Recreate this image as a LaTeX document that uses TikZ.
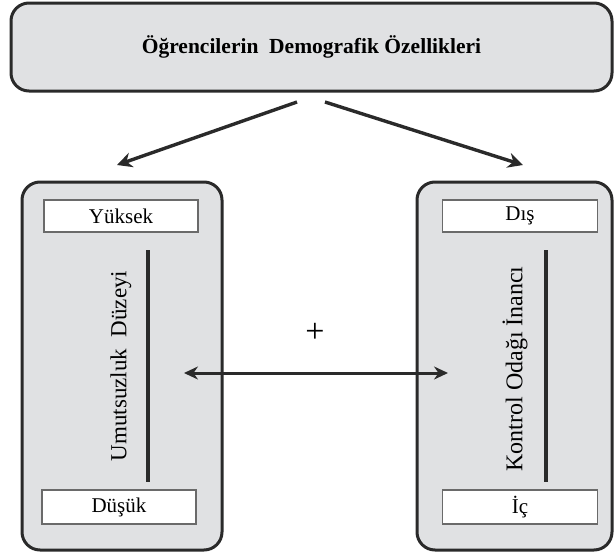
\documentclass[tikz,border=0pt]{standalone}
\usepackage{fontspec}
\setmainfont{Liberation Serif}
\usetikzlibrary{arrows.meta}
\definecolor{boxfill}{HTML}{E0E1E3}
\definecolor{edge}{HTML}{2A2A2A}
\tikzset{
  bigbox/.style={draw=edge, line width=3pt, fill=boxfill, rounded corners=18pt, inner sep=0pt},
  tagbox/.style={draw=edge!70, line width=1.1pt, fill=white, inner sep=0pt, font=\fontsize{21}{23}\selectfont},
  axis/.style={draw=edge, line width=3.5pt},
  conn/.style={draw=edge, line width=3.4pt, -{Stealth[length=15pt,width=15pt]}},
  dconn/.style={draw=edge, line width=3pt, {Stealth[length=14pt,width=13pt]}-{Stealth[length=14pt,width=13pt]}},
  vlabel/.style={rotate=90, inner sep=0pt}
}
\begin{document}
\begin{tikzpicture}[x=1pt,y=-1pt]
\useasboundingbox (0,0) rectangle (614,555);
\node[bigbox, minimum width=601pt, minimum height=88pt] (top) at (311.5,47)
  {\fontsize{21.5}{23}\selectfont\bfseries Öğrencilerin\ \ Demografik Özellikleri};
\node[bigbox, minimum width=200pt, minimum height=368pt] (lbox) at (122,366) {};
\node[bigbox, minimum width=195pt, minimum height=368pt] (rbox) at (514.5,366) {};
\node[tagbox, minimum width=154pt, minimum height=32pt] (ltop) at (121,216) {Yüksek};
\node[tagbox, minimum width=154pt, minimum height=34pt] (lbot) at (119,507) {Düşük};
\node[tagbox, minimum width=155pt, minimum height=32pt] (rtop) at (520,216) {Dış};
\node[tagbox, minimum width=155pt, minimum height=34pt] (rbot) at (520,507) {İç};
\coordinate (la) at (148,250); \coordinate (lb) at (148,482);
\coordinate (ra) at (546,250); \coordinate (rb) at (546,482);
\draw[axis] (la) -- (lb);
\draw[axis] (ra) -- (rb);
\node[vlabel, font=\fontsize{23}{25}\selectfont] (lname) at (121,366) {Umutsuzluk\ \ Düzeyi};
\node[vlabel, font=\fontsize{24}{26}\selectfont] (rname) at (515,369) {Kontrol Odağı İnancı};
\coordinate (s1) at (297,102); \coordinate (e1) at (117,165);
\coordinate (s2) at (325,102); \coordinate (e2) at (523,165);
\draw[conn] (s1) -- (e1);
\draw[conn] (s2) -- (e2);
\coordinate (d1) at (184,373); \coordinate (d2) at (448,373);
\draw[dconn] (d1) -- (d2);
\node[font=\fontsize{34}{36}\selectfont, inner sep=0pt] (plus) at (315,333) {+};
\end{tikzpicture}
\end{document}
